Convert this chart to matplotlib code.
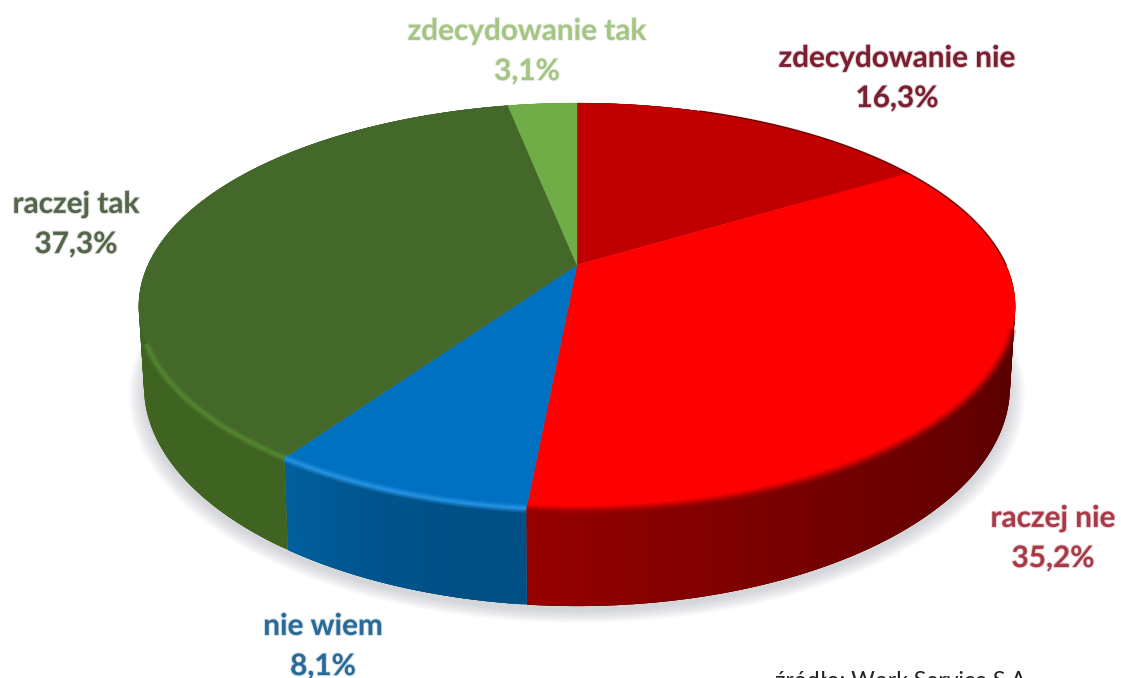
import numpy as np
from matplotlib import pyplot as plt
from matplotlib import patheffects as pe
from matplotlib.collections import PolyCollection
from matplotlib.colors import to_rgb

# data
labels = ["zdecydowanie nie", "raczej nie", "nie wiem", "raczej tak", "zdecydowanie tak"]
values = [16.3, 35.2, 8.1, 37.3, 3.1]

# styles
top_colors = ["#c00000", "#ff0000", "#0070c0", "#44682a", "#70ad47"]
side_left = ["#700000", "#960000", "#00609f", "#3f6320", "#5c9038"]
side_right = ["#700000", "#4f0000", "#004f85", "#3f6320", "#5c9038"]
rim_colors = ["#8a0000", "#a80000", "#2a98ea", "#568a32", "#84c05c"]
text_colors = ["#7a1f30", "#a83a48", "#2a6a96", "#55654a", "#a4c583"]
label_pos = [(897, 78), (1053, 538), (323, 646), (76, 224), (527, 51)]

# perspective of the pie disc, in pixels
CX, CY = 577, 265
A, B, K, DEPTH = 429, 195, 0.204, 76.5
SHRINK = 0.012  # bottom of the disc is a bit narrower


def project(theta, r=1.0, depth=0.0):
    # theta in degrees, clockwise from 12 o'clock
    t = np.radians(theta)
    u, v = r * np.sin(t), r * np.cos(t)
    w = 1 + K * v
    scale = 1 - SHRINK * depth / DEPTH
    return CX + scale * A * u / w, CY - B * v / w + depth / w


plt.rcParams["font.family"] = ["Lato", "DejaVu Sans"]
fig = plt.figure(figsize=(11.21, 6.78), dpi=100)
ax = fig.add_axes([0, 0, 1, 1])
ax.set_xlim(0, 1121)
ax.set_ylim(678, 0)
ax.axis("off")

# soft shadow under the disc
circle = np.linspace(0, 360, 361)
sx, sy = project(circle, depth=DEPTH)
for grow in np.linspace(1.035, 1.0, 12):
    ax.fill(
        CX + (sx - CX) * grow,
        CY + 5 + (sy - CY) * grow,
        color="#8a8f98",
        alpha=0.03,
        lw=0,
        zorder=1,
    )

edges = np.concatenate([[0], np.cumsum(values)]) / sum(values) * 360

# side wall, split in small strips so it can shade along the rim
# strips overlap the next one to hide the seams
for i in range(len(values)):
    steps = np.arange(edges[i], edges[i + 1], 0.5)
    left, right = np.array(to_rgb(side_left[i])), np.array(to_rgb(side_right[i]))
    quads = []
    colors = []
    for a0 in steps:
        a1 = min(a0 + 1.5, edges[i + 1])
        arc = np.linspace(a0, a1, 4)
        x_top, y_top = project(arc)
        x_bot, y_bot = project(arc[::-1], depth=DEPTH)
        quads.append(np.c_[np.r_[x_top, x_bot], np.r_[y_top, y_bot]])
        f = (a0 - edges[i]) / (edges[i + 1] - edges[i])
        colors.append(right + (left - right) * f**2)
    ax.add_collection(PolyCollection(quads, facecolors=colors, edgecolors="none", zorder=2))

# top face
for i in range(len(values)):
    arc = np.linspace(edges[i], edges[i + 1], 200)
    ax_x, ax_y = project(arc)
    ax.fill(
        np.r_[CX, ax_x],
        np.r_[CY, ax_y],
        facecolor=top_colors[i],
        edgecolor=top_colors[i],
        lw=0.3,
        zorder=3,
    )

# bevel along the front rim
for i in range(len(values)):
    start, stop = max(edges[i], 108), min(edges[i + 1], 248)
    if start >= stop:
        continue
    x, y = project(np.linspace(start, stop, 120))
    for lw, alpha in [(6, 0.25), (4, 0.35), (2, 0.6)]:
        ax.plot(x, y, color=rim_colors[i], lw=lw, alpha=alpha, solid_capstyle="butt", zorder=4)

# thin dark edge on the upper right
x, y = project(np.linspace(20, 90, 100))
ax.plot(x, y, color="#6a0000", lw=1.2, alpha=0.8, zorder=4)

for i, name in enumerate(labels):
    value = f"{values[i]:.1f}".replace(".", ",")
    ax.text(
        label_pos[i][0],
        label_pos[i][1],
        f"{name}\n{value}%",
        color=text_colors[i],
        fontsize=21.4,
        fontweight="bold",
        ha="center",
        va="center",
        multialignment="center",
        linespacing=1.53,
        path_effects=[pe.withStroke(linewidth=1.5, foreground=text_colors[i], alpha=0.2)],
        zorder=5,
    )

ax.text(903, 681, "źródło: Work Service S.A.", color="#222222", fontsize=16.5,
        ha="center", va="center", zorder=5)

fig.savefig("out.png", dpi=100)
